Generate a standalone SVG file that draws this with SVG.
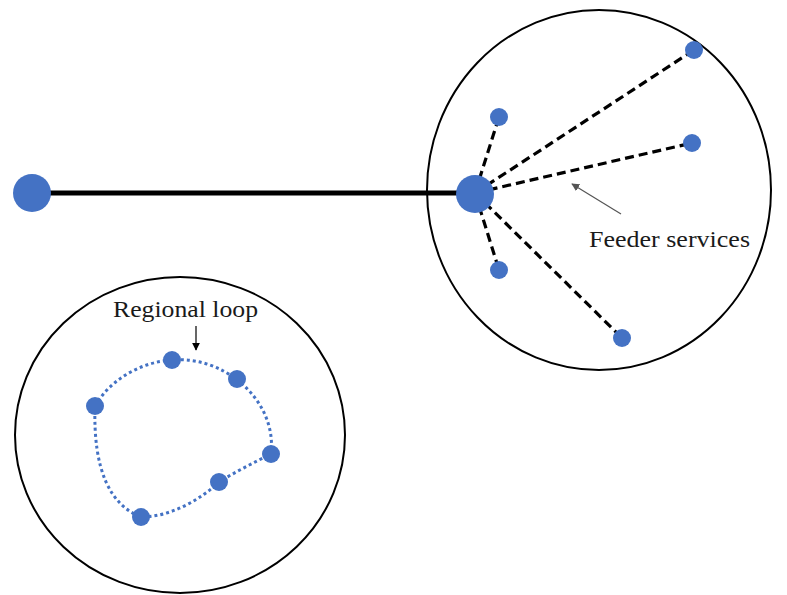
<svg xmlns="http://www.w3.org/2000/svg" width="787" height="595" viewBox="0 0 787 595">
<style>
.region{fill:none;stroke:#000;stroke-width:2}
.node{fill:#4472C4}
.feeder{stroke:#000;stroke-width:3.2;stroke-dasharray:9 5;fill:none}
.loop{stroke:#4472C4;stroke-width:3;stroke-dasharray:3 3;fill:none}
.lbl{font-family:"Liberation Serif",serif;fill:#1a1a1a}
</style>
<defs>
<marker id="ah" viewBox="0 0 10 10" refX="9" refY="5" markerWidth="8" markerHeight="8" markerUnits="userSpaceOnUse" orient="auto"><path d="M0,0 L10,5 L0,10 z" fill="context-stroke"/></marker>
</defs>
<rect width="787" height="595" fill="#fff"/>
<g id="region-hub"><ellipse class="region" cx="599" cy="190" rx="172" ry="180"/></g>
<g id="region-loop"><ellipse class="region" cx="180" cy="435" rx="165" ry="158"/></g>
<g id="connectors">
<line x1="32" y1="193" x2="475" y2="193" stroke="#000" stroke-width="5"/>
<line class="feeder" x1="475" y1="193" x2="694" y2="50"/>
<line class="feeder" x1="475" y1="193" x2="499" y2="117"/>
<line class="feeder" x1="475" y1="193" x2="692" y2="143"/>
<line class="feeder" x1="475" y1="193" x2="499" y2="270"/>
<line class="feeder" x1="475" y1="193" x2="622" y2="338"/>
<path class="loop" d="M95 406 C110 380 140 362 172 360 C200 358 222 368 237 380 C255 393 275 420 271 454 C255 462 235 472 219 482 C200 500 170 517 141 517 C110 505 93 470 95 406"/>
<line x1="621" y1="214" x2="572" y2="184" stroke="#555" stroke-width="1.2" marker-end="url(#ah)"/>
<line x1="196" y1="326" x2="196" y2="350" stroke="#000" stroke-width="1.2" marker-end="url(#ah)"/>
</g>
<g id="node-origin"><circle class="node" cx="32" cy="193" r="19"/></g>
<g id="node-hub"><circle class="node" cx="475" cy="194" r="19"/></g>
<g id="node-f1"><circle class="node" cx="694" cy="50" r="9"/></g>
<g id="node-f2"><circle class="node" cx="499" cy="117" r="9"/></g>
<g id="node-f3"><circle class="node" cx="692" cy="143" r="9"/></g>
<g id="node-f4"><circle class="node" cx="499" cy="270" r="9"/></g>
<g id="node-f5"><circle class="node" cx="622" cy="338" r="9"/></g>
<g id="node-l1"><circle class="node" cx="172" cy="360" r="9"/></g>
<g id="node-l2"><circle class="node" cx="237" cy="379" r="9"/></g>
<g id="node-l3"><circle class="node" cx="95" cy="406" r="9"/></g>
<g id="node-l4"><circle class="node" cx="271" cy="454" r="9"/></g>
<g id="node-l5"><circle class="node" cx="219" cy="482" r="9"/></g>
<g id="node-l6"><circle class="node" cx="141" cy="517" r="9"/></g>
<g id="label-feeder"><text class="lbl" x="589" y="247" font-size="24" textLength="161" lengthAdjust="spacingAndGlyphs">Feeder services</text></g>
<g id="label-loop"><text class="lbl" x="113" y="317" font-size="23" textLength="145" lengthAdjust="spacingAndGlyphs">Regional loop</text></g>
</svg>
